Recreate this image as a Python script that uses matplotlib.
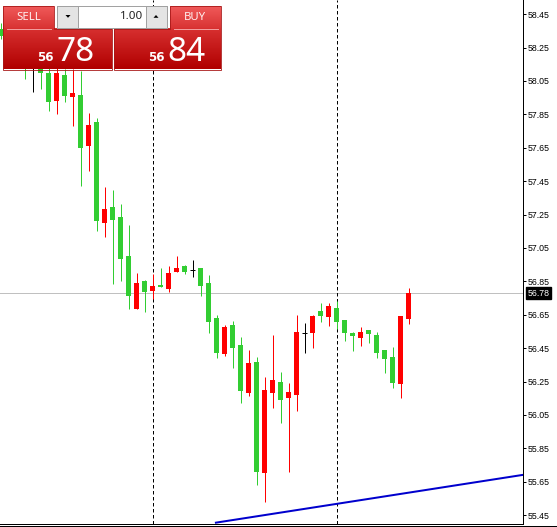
import numpy as np
import matplotlib
matplotlib.use('Agg')
import matplotlib.pyplot as plt
from matplotlib.patches import Rectangle, Polygon
from matplotlib.colors import LinearSegmentedColormap
from matplotlib.lines import Line2D

# candle data (index = bar number, prices)
bar = np.arange(52)
opens = [58.36, 58.30, 58.38, 58.25, 58.15, 58.16, 58.098, 57.931, 58.086, 57.954,
         57.966, 57.662, 57.805, 57.202, 57.298, 57.238, 56.999, 56.683, 56.850, 56.790,
         56.826, 56.802, 56.904, 56.940, 56.916, 56.928, 56.838, 56.629, 56.414, 56.587,
         56.468, 56.181, 56.367, 55.704, 56.181, 56.247, 56.152, 56.169, 56.540, 56.540,
         56.671, 56.635, 56.689, 56.617, 56.540, 56.510, 56.557, 56.528, 56.438, 56.396,
         56.235, 56.623]
highs = [58.40, 58.42, 58.40, 58.28, 58.22, 58.20, 58.15, 58.13, 58.12, 58.12,
         58.11, 57.859, 57.829, 57.417, 57.399, 57.316, 57.190, 56.898, 56.856, 56.892,
         56.928, 56.940, 56.999, 56.946, 56.975, 56.928, 56.886, 56.647, 56.587, 56.611,
         56.516, 56.438, 56.396, 56.277, 56.528, 56.307, 56.241, 56.647, 56.599, 56.647,
         56.719, 56.719, 56.731, 56.617, 56.546, 56.575, 56.557, 56.546, 56.438, 56.456,
         56.641, 56.808]
lows = [58.30, 58.26, 58.20, 58.062, 57.984, 58.00, 57.871, 57.853, 57.925, 57.781,
        57.423, 57.513, 57.154, 57.113, 56.832, 56.850, 56.683, 56.683, 56.665, 56.743,
        56.814, 56.784, 56.904, 56.892, 56.874, 56.760, 56.540, 56.390, 56.402, 56.331,
        56.122, 56.163, 55.632, 55.531, 56.092, 56.002, 55.710, 56.074, 56.420, 56.450,
        56.605, 56.581, 56.563, 56.492, 56.432, 56.462, 56.480, 56.390, 56.301, 56.211,
        56.152, 56.593]
closes = [58.32, 58.38, 58.25, 58.15, 58.15, 58.10, 57.925, 58.098, 57.960, 57.978,
          57.650, 57.787, 57.214, 57.286, 57.220, 56.981, 56.760, 56.838, 56.784, 56.820,
          56.814, 56.898, 56.928, 56.904, 56.916, 56.820, 56.605, 56.420, 56.575, 56.450,
          56.193, 56.361, 55.710, 56.199, 56.259, 56.140, 56.187, 56.546, 56.540, 56.641,
          56.641, 56.701, 56.605, 56.540, 56.522, 56.546, 56.534, 56.420, 56.384, 56.241,
          56.641, 56.780]

bid = 56.78
separators = [19, 42]
trend_x = [26.9, 65.4]
trend_y = [55.405, 55.692]
price_ticks = np.arange(55.45, 58.46, 0.2)

W, H = 557, 527
fig = plt.figure(figsize=(W / 100, H / 100), dpi=100)
ax = fig.add_axes([0, 3.5 / H, 523 / W, 1 - 3.5 / H])

px = 0.72  # one pixel in points
up_col, dn_col = '#ff0000', '#32cd32'
bw = 0.625

for i, o, h, l, c in zip(bar, opens, highs, lows, closes):
    if abs(c - o) < 1e-9:
        col = 'black'
        ax.vlines(i, l, h, color=col, lw=px, zorder=3)
        ax.hlines(o, i - bw / 2, i + bw / 2, color=col, lw=px, zorder=3)
        continue
    col = up_col if c > o else dn_col
    ax.vlines(i, l, h, color=col, lw=px, zorder=3)
    ax.bar(i, max(abs(c - o), 0.006), bottom=min(o, c), width=bw, color=col,
           lw=0, zorder=4)

ax.axhline(bid, color='#c0c0c0', lw=px, zorder=2)
for s in separators:
    ax.axvline(s, color='black', lw=px, ls=(0, (3.5, 2.5)), zorder=2)
ax.plot(trend_x, trend_y, color='#0000cd', lw=2 * px, zorder=5)

ax.set_xlim(-0.1, 65.3)
ax.set_ylim(55.40, 58.535)
ax.set_xticks([])
ax.yaxis.tick_right()
ax.set_yticks(price_ticks)
ax.set_yticklabels(['%.2f' % t for t in price_ticks], family='Liberation Sans',
                   fontsize=6.3)
ax.tick_params(axis='y', direction='out', length=2.2, width=px, pad=1.5)
for side in ['left', 'top']:
    ax.spines[side].set_visible(False)
for side in ['right', 'bottom']:
    ax.spines[side].set_linewidth(px)

ax.text(1.0085, bid, '%.2f' % bid, transform=ax.get_yaxis_transform(),
        ha='left', va='center', color='white', fontsize=6.3,
        family='Liberation Sans',
        bbox=dict(boxstyle='square,pad=0.18', fc='black', ec='black'))

fig.add_artist(Line2D([0, 1], [1.5 / H, 1.5 / H], color='black', lw=px,
                      transform=fig.transFigure))

# one-click trading panel drawn in pixel space
ov = fig.add_axes([0, 0, 1, 1], zorder=10)
ov.patch.set_alpha(0)
ov.axis('off')


def grad(x0, y0, x1, y1, ctop, cbot):
    g = np.linspace(0, 1, 64)[:, None]
    cm = LinearSegmentedColormap.from_list('g', [ctop, cbot])
    ov.imshow(g, extent=(x0, x1, y1, y0), cmap=cm, aspect='auto',
              interpolation='bilinear', zorder=1)


grad(3, 6, 54, 29, '#f05a5a', '#d83232')
grad(3, 29, 112, 69.5, '#d83030', '#b00000')
grad(170, 6, 221, 29, '#f05a5a', '#d83232')
grad(114, 29, 221, 69.5, '#d83030', '#b00000')
edge = '#a81818'
ov.add_patch(Polygon([(3, 6), (54, 6), (54, 29), (112, 29), (112, 69.5), (3, 69.5)],
                     closed=True, fill=False, ec=edge, lw=0.6, zorder=2))
ov.add_patch(Polygon([(170, 6), (221, 6), (221, 69.5), (114, 69.5), (114, 29), (170, 29)],
                     closed=True, fill=False, ec=edge, lw=0.6, zorder=2))
ov.plot([7, 51], [29, 29], color='#f3a0a0', lw=0.7, zorder=3)
ov.plot([174, 218], [29, 29], color='#f3a0a0', lw=0.7, zorder=3)

# lot spin box
ov.add_patch(Rectangle((57, 6), 110, 22, fc='white', ec='#a0a0a0', lw=0.7, zorder=2))
ov.add_patch(Rectangle((57, 6), 21, 22, fc='#e4e4e4', ec='#a0a0a0', lw=0.7, zorder=3))
ov.add_patch(Rectangle((146, 6), 21, 22, fc='#e4e4e4', ec='#a0a0a0', lw=0.7, zorder=3))
ov.add_patch(Polygon([(65.5, 15), (70.5, 15), (68, 17.8)], closed=True, fc='black',
                     ec='none', zorder=4))
ov.add_patch(Polygon([(153.5, 17.8), (158.5, 17.8), (156, 15)], closed=True, fc='black',
                     ec='none', zorder=4))
ov.text(143.5, 16.5, '1.00', ha='right', va='center', fontsize=8.3, color='#202020',
        family='Noto Sans', zorder=5)

ov.text(28.5, 17.5, 'SELL', ha='center', va='center', fontsize=8.2, color='#fff0f0',
        family='Noto Sans', zorder=5)
ov.text(195, 17.5, 'BUY', ha='center', va='center', fontsize=8.2, color='#fff0f0',
        family='Noto Sans', zorder=5)
ov.text(53.5, 61, '56', ha='right', va='baseline', fontsize=8.6, fontweight='bold',
        color='white', family='DejaVu Sans', zorder=5)
ov.text(56, 61, '78', ha='left', va='baseline', fontsize=24, color='white',
        family='Noto Sans', zorder=5)
ov.text(164.5, 61, '56', ha='right', va='baseline', fontsize=8.6, fontweight='bold',
        color='white', family='DejaVu Sans', zorder=5)
ov.text(167, 61, '84', ha='left', va='baseline', fontsize=24, color='white',
        family='Noto Sans', zorder=5)

ov.set_xlim(0, W)
ov.set_ylim(H, 0)

fig.savefig('out.png', dpi=100, facecolor='white')
